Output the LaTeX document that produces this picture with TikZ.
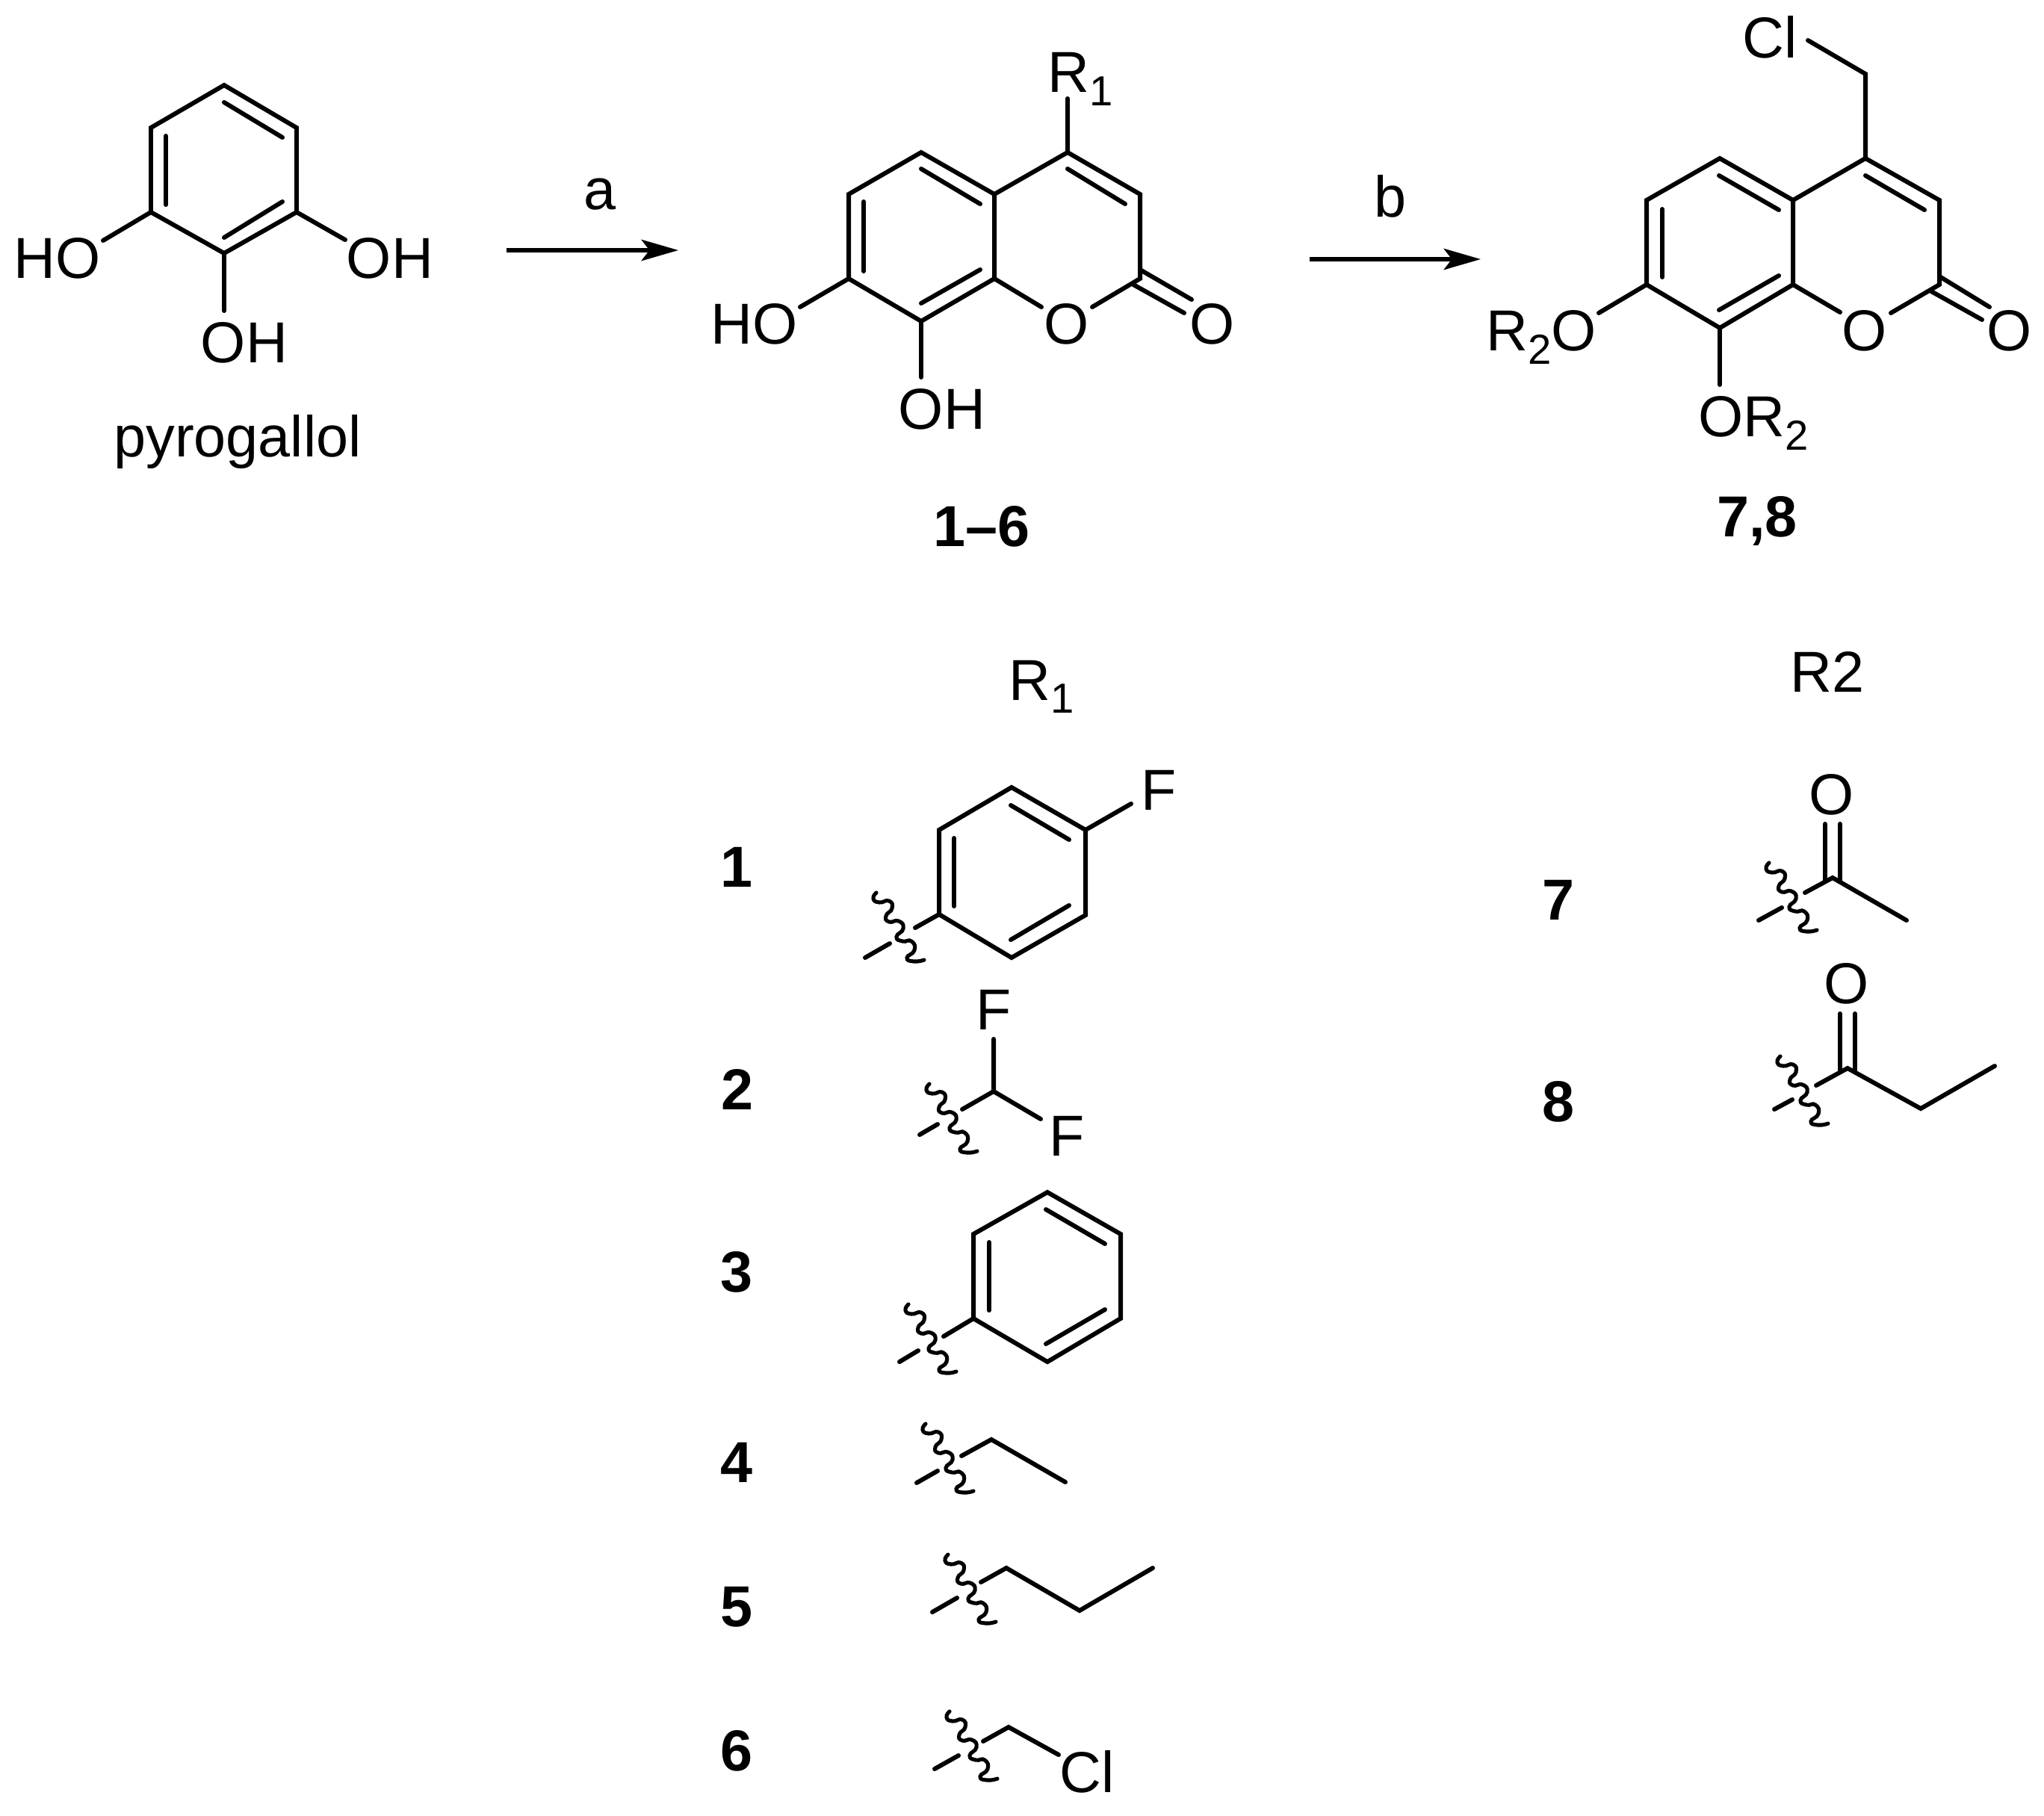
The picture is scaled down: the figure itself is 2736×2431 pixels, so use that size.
\documentclass[tikz,border=0pt]{standalone}
\usepackage{fontspec}
\setmainfont{Liberation Sans}
\usepackage{tikz}
\usetikzlibrary{arrows.meta}

\newcommand{\atomsub}[1]{\raisebox{-0.17cm}{\fontsize{16}{18}\selectfont #1}}

\begin{document}
\begin{tikzpicture}[x=0.01cm, y=-0.01cm]
	\useasboundingbox (0,0) rectangle (2736,2431);
	% ------------------------------------------------------------------
	% STYLE DEFINITIONS
	% ------------------------------------------------------------------
	\tikzset{
		atom/.style   = {inner sep=0pt, font=\fontsize{22}{26}\selectfont},
		number/.style = {inner sep=0pt, font=\fontsize{22}{26}\selectfont\bfseries},
		bond/.style   = {line width=1.7pt, line cap=round, line join=miter, black},
		rxn/.style    = {line width=1.7pt, black, -{Stealth[length=14pt, width=8pt, inset=3pt]}},
		wavy/.pic = {
			\draw[line width=1.45pt, line cap=round, black] plot[smooth, tension=1] coordinates
				{(0,0) (-4,8) (4,13) (17,11) (21,21) (13,31) (17,39) (30,38) (36,48)
				 (27,59) (35,65) (47,65) (51,77) (41,87) (50,92) (64,90)};
		}
	}

	% --- pyrogallol ---
	\coordinate (pa) at (300,114); \coordinate (pb) at (397,171); \coordinate (pc) at (397,284);
	\coordinate (pd) at (300,339); \coordinate (pe) at (202,284); \coordinate (pf) at (202,171);
	\coordinate (pho1) at (138,322); \coordinate (pho2) at (462,321); \coordinate (pho3) at (300,416);
	\draw[bond] (pa) -- (pb) -- (pc) -- (pd) -- (pe) -- (pf) -- cycle;
	\draw[bond] (300,137) -- (378,184);
	\draw[bond] (378,270) -- (300,318);
	\draw[bond] (222,182) -- (222,274);
	\draw[bond] (pe) -- (pho1);
	\draw[bond] (pc) -- (pho2);
	\draw[bond] (pd) -- (pho3);
	\node[atom] (phoA) at (77,346) {HO};
	\node[atom] (phoB) at (522,346) {OH};
	\node[atom] (phoC) at (327,459) {OH};
	\node[atom, anchor=base] (pname) at (318,612) {pyrogallol};

	% --- step a ---
	\coordinate (aS) at (678,335); \coordinate (aE) at (908,335);
	\draw[rxn] (aS) -- (aE);
	\node[atom] (aL) at (803,260) {a};

	% --- coumarin 1-6 ---
	\coordinate (c4) at (1429,204); \coordinate (c4a) at (1331,260); \coordinate (c8a) at (1331,373);
	\coordinate (c2) at (1526,373); \coordinate (c3) at (1526,260); \coordinate (c5) at (1233,204);
	\coordinate (c6) at (1136,260); \coordinate (c7) at (1136,373); \coordinate (c8) at (1233,430);
	\coordinate (cr) at (1429,132); \coordinate (co1) at (1394,411); \coordinate (co2) at (1462,411);
	\coordinate (cho7) at (1071,411); \coordinate (cho8) at (1233,505);
	\draw[bond] (c4a) -- (c5) -- (c6) -- (c7) -- (c8) -- (c8a) -- cycle;
	\draw[bond] (c4a) -- (c4) -- (c3) -- (c2) -- (co2);
	\draw[bond] (c8a) -- (co1);
	\draw[bond] (1233,226) -- (1312,273);
	\draw[bond] (1156,270) -- (1156,363);
	\draw[bond] (1233,406) -- (1312,361);
	\draw[bond] (1429,226) -- (1506,273);
	\draw[bond] (c4) -- (cr);
	\draw[bond] (c7) -- (cho7);
	\draw[bond] (c8) -- (cho8);
	\draw[bond] (1526,361) -- (1595,401);
	\draw[bond] (1517,381) -- (1585,419);
	\node[atom, anchor=base west] (cR) at (1402,124) {R\atomsub{1}};
	\node[atom] (cO) at (1428,434) {O};
	\node[atom] (cOc) at (1623,434) {O};
	\node[atom] (cHO) at (1010,434) {HO};
	\node[atom] (cOH) at (1261,548) {OH};
	\node[number] (cnum) at (1314,705) {1–6};

	% --- step b ---
	\coordinate (bS) at (1753,347); \coordinate (bE) at (1982,347);
	\draw[rxn] (bS) -- (bE);
	\node[atom, anchor=base] (bL) at (1861,291) {b};

	% --- coumarin 7,8 ---
	\coordinate (d4) at (2497,212); \coordinate (d4a) at (2400,268); \coordinate (d8a) at (2400,381);
	\coordinate (d2) at (2596,381); \coordinate (d3) at (2596,268); \coordinate (d5) at (2302,212);
	\coordinate (d6) at (2204,268); \coordinate (d7) at (2204,381); \coordinate (d8) at (2302,439);
	\coordinate (dch) at (2497,99); \coordinate (dcl) at (2420,54);
	\coordinate (do1) at (2463,418); \coordinate (do2) at (2531,419);
	\coordinate (dor7) at (2140,419); \coordinate (dor8) at (2302,515);
	\draw[bond] (d4a) -- (d5) -- (d6) -- (d7) -- (d8) -- (d8a) -- cycle;
	\draw[bond] (d4a) -- (d4) -- (d3) -- (d2) -- (do2);
	\draw[bond] (d8a) -- (do1);
	\draw[bond] (2301,235) -- (2381,281);
	\draw[bond] (2225,280) -- (2225,371);
	\draw[bond] (2301,415) -- (2381,369);
	\draw[bond] (2497,235) -- (2576,281);
	\draw[bond] (d4) -- (dch) -- (dcl);
	\draw[bond] (d7) -- (dor7);
	\draw[bond] (d8) -- (dor8);
	\draw[bond] (2596,370) -- (2663,411);
	\draw[bond] (2585,390) -- (2653,428);
	\node[atom] (dCl) at (2369,50) {Cl};
	\node[atom] (dO) at (2496,443) {O};
	\node[atom] (dOc) at (2690,443) {O};
	\node[atom, anchor=base west] (dR7) at (1989,470) {R\atomsub{2}O};
	\node[atom, anchor=base west] (dR8) at (2273,585) {OR\atomsub{2}};
	\node[number] (dnum) at (2352,697) {7,8};

	% --- column headings ---
	\node[atom, anchor=base west] (headA) at (1350,937) {R\atomsub{1}};
	\node[atom, anchor=base] (headB) at (2446,926) {R2};

	% --- substituent 1 ---
	\node[number] (n1) at (986,1161) {1};
	\coordinate (ea) at (1354,1054); \coordinate (eb) at (1453,1111); \coordinate (ec) at (1453,1225);
	\coordinate (ed) at (1354,1282); \coordinate (ee) at (1257,1224); \coordinate (ef) at (1257,1111);
	\coordinate (eF) at (1514,1076); \coordinate (eT) at (1225,1242);
	\coordinate (eP) at (1191,1263); \coordinate (eQ) at (1158,1282);
	\draw[bond] (ea) -- (eb) -- (ec) -- (ed) -- (ee) -- (ef) -- cycle;
	\draw[bond] (1353,1078) -- (1431,1124);
	\draw[bond] (1431,1212) -- (1353,1258);
	\draw[bond] (1277,1122) -- (1277,1213);
	\draw[bond] (eb) -- (eF);
	\draw[bond] (ee) -- (eT);
	\draw[bond] (eP) -- (eQ);
	\pic at (1173,1195) {wavy};
	\node[atom] (eFl) at (1551,1058) {F};

	% --- substituent 2 ---
	\node[number] (n2) at (987,1458) {2};
	\coordinate (fc) at (1330,1461); \coordinate (fu) at (1330,1391); \coordinate (fr) at (1393,1498);
	\coordinate (fT) at (1288,1485); \coordinate (fP) at (1255,1505); \coordinate (fQ) at (1231,1519);
	\draw[bond] (fu) -- (fc) -- (fr);
	\draw[bond] (fc) -- (fT);
	\draw[bond] (fP) -- (fQ);
	\pic at (1244,1451) {wavy};
	\node[atom] (fF1) at (1330,1352) {F};
	\node[atom] (fF2) at (1428,1521) {F};

	% --- substituent 3 ---
	\node[number] (n3) at (986,1703) {3};
	\coordinate (ga) at (1402,1596); \coordinate (gb) at (1500,1652); \coordinate (gc) at (1500,1765);
	\coordinate (gd) at (1402,1823); \coordinate (ge) at (1303,1765); \coordinate (gf) at (1303,1652);
	\coordinate (gT) at (1263,1789); \coordinate (gP) at (1229,1808); \coordinate (gQ) at (1204,1823);
	\draw[bond] (ga) -- (gb) -- (gc) -- (gd) -- (ge) -- (gf) -- cycle;
	\draw[bond] (1400,1619) -- (1479,1665);
	\draw[bond] (1479,1753) -- (1400,1799);
	\draw[bond] (1324,1663) -- (1324,1754);
	\draw[bond] (ge) -- (gT);
	\draw[bond] (gP) -- (gQ);
	\pic at (1216,1746) {wavy};

	% --- substituent 4 ---
	\node[number] (n4) at (986,1958) {4};
	\coordinate (hT) at (1287,1949); \coordinate (hc) at (1327,1927); \coordinate (hd) at (1426,1984);
	\coordinate (hP) at (1255,1969); \coordinate (hQ) at (1227,1985);
	\draw[bond] (hT) -- (hc) -- (hd);
	\draw[bond] (hP) -- (hQ);
	\pic at (1239,1906) {wavy};

	% --- substituent 5 ---
	\node[number] (n5) at (986,2151) {5};
	\coordinate (iT) at (1313,2118); \coordinate (ic) at (1347,2099); \coordinate (id) at (1445,2156);
	\coordinate (ie) at (1543,2099); \coordinate (iP) at (1281,2139); \coordinate (iQ) at (1248,2158);
	\draw[bond] (iT) -- (ic) -- (id) -- (ie);
	\draw[bond] (iP) -- (iQ);
	\pic at (1269,2081) {wavy};

	% --- substituent 6 ---
	\node[number] (n6) at (986,2344) {6};
	\coordinate (jT) at (1316,2331); \coordinate (jc) at (1350,2312); \coordinate (jd) at (1417,2349);
	\coordinate (jP) at (1283,2350); \coordinate (jQ) at (1251,2368);
	\draw[bond] (jT) -- (jc) -- (jd);
	\draw[bond] (jP) -- (jQ);
	\pic at (1271,2291) {wavy};
	\node[atom] (jCl) at (1455,2372) {Cl};

	% --- substituent 7 ---
	\node[number] (n7) at (2086,1205) {7};
	\coordinate (kc) at (2453,1175); \coordinate (kT) at (2416,1195); \coordinate (kd) at (2552,1232);
	\coordinate (kP) at (2385,1215); \coordinate (kQ) at (2354,1232);
	\draw[bond] (kT) -- (kc) -- (kd);
	\draw[bond] (2443,1178) -- (2443,1103);
	\draw[bond] (2463,1178) -- (2463,1103);
	\draw[bond] (kP) -- (kQ);
	\pic at (2368,1155) {wavy};
	\node[atom] (kO) at (2452,1064) {O};

	% --- substituent 8 ---
	\node[number] (n8) at (2086,1475) {8};
	\coordinate (lc) at (2473,1430); \coordinate (lT) at (2431,1453); \coordinate (ld) at (2571,1484);
	\coordinate (le) at (2670,1427); \coordinate (lP) at (2399,1472); \coordinate (lQ) at (2375,1485);
	\draw[bond] (lT) -- (lc) -- (ld) -- (le);
	\draw[bond] (2463,1433) -- (2463,1357);
	\draw[bond] (2483,1433) -- (2483,1357);
	\draw[bond] (lP) -- (lQ);
	\pic at (2383,1414) {wavy};
	\node[atom] (lO) at (2472,1317) {O};

\end{tikzpicture}
\end{document}
